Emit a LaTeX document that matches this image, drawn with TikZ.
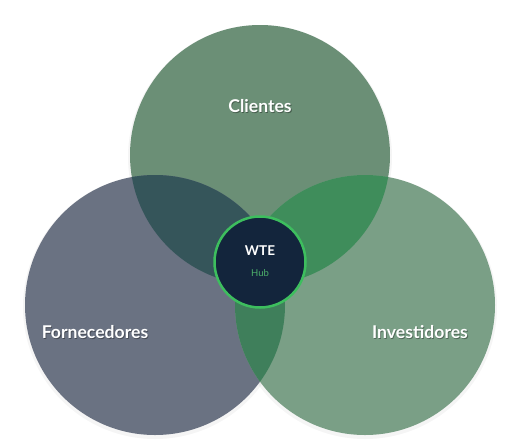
\documentclass[tikz,border=0pt]{standalone}
\usepackage{fontspec}
\setmainfont{Lato}
\begin{document}
\begin{tikzpicture}[x=1pt,y=-1pt,
  lbl/.style={text=white,font=\bfseries\fontsize{17.6}{20}\selectfont,inner sep=0pt},
  shd/.style={text=black,opacity=0.35,font=\bfseries\fontsize{17.6}{20}\selectfont,inner sep=0pt},
]
\definecolor{ctop}{HTML}{6B8F76}
\definecolor{cleft}{HTML}{6A7282}
\definecolor{cright}{HTML}{7A9F86}
\definecolor{ctl}{HTML}{35555A}
\definecolor{ctr}{HTML}{3F8D5B}
\definecolor{clr}{HTML}{3F7F5B}
\definecolor{chub}{HTML}{13253C}
\definecolor{cring}{HTML}{3DBE5E}
\definecolor{chubtxt}{HTML}{4CAF6A}
\useasboundingbox (0,0) rectangle (520,440);
\fill[white] (0,0) rectangle (520,440);
% soft shadows
\foreach \cx/\cy in {260/155,155/305,365/305}{
  \fill[black,opacity=0.04] (\cx,\cy+2) circle (132);
}
\fill[ctop] (260,155) circle (130);
\fill[cleft] (155,305) circle (130);
\fill[cright] (365,305) circle (130);
\begin{scope}
  \clip (260,155) circle (130);
  \fill[ctl] (155,305) circle (130);
  \fill[ctr] (365,305) circle (130);
\end{scope}
\begin{scope}
  \clip (155,305) circle (130);
  \fill[clr] (365,305) circle (130);
\end{scope}
\begin{scope}
  \clip (260,155) circle (130);
  \clip (155,305) circle (130);
  \fill[ctl!50!clr] (365,305) circle (130);
\end{scope}
\node[circle,fill=chub,draw=cring,line width=2.5pt,minimum size=91pt,inner sep=0pt] (hub) at (260,262) {};
\node[text=white,font=\bfseries\fontsize{13.5}{15}\selectfont,inner sep=0pt] (wte) at (260,251) {WTE};
\node[text=chubtxt,font=\fontsize{9.5}{11}\selectfont,inner sep=0pt] (hubt) at (260,273) {Hub};
\node[shd] at (260.8,106.8) {Clientes};
\node[lbl] (cli) at (260,106) {Clientes};
\node[shd] at (95.8,332.8) {Fornecedores};
\node[lbl] (forn) at (95,332) {Fornecedores};
\node[shd] at (420.8,332.8) {Investidores};
\node[lbl] (inv) at (420,332) {Investidores};
\end{tikzpicture}
\end{document}
